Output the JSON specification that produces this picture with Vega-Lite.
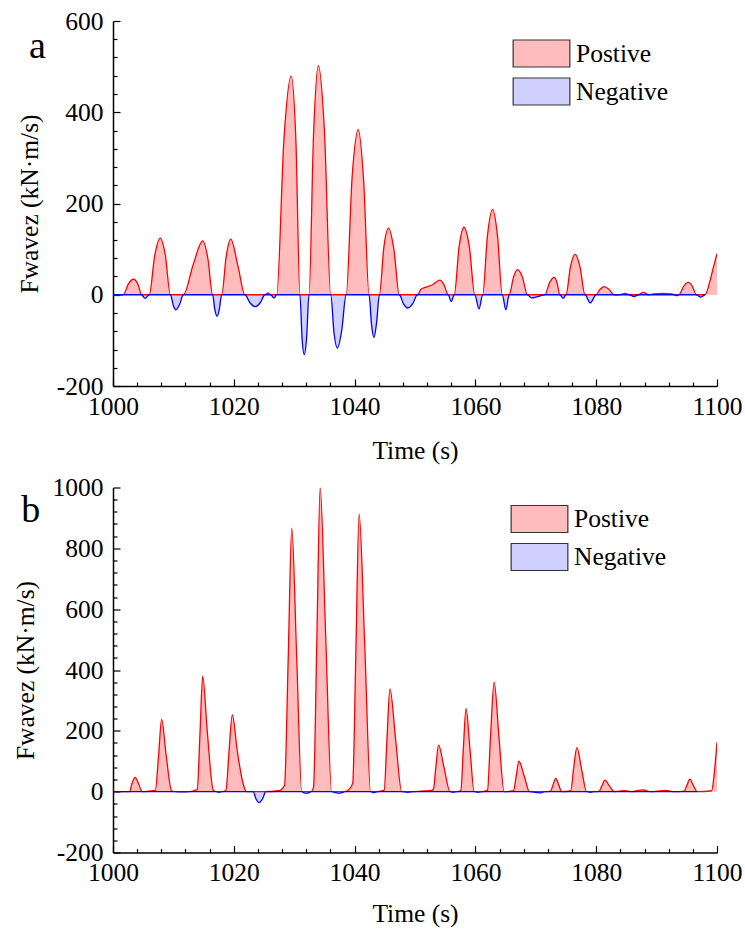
{
"$schema": "https://vega.github.io/schema/vega-lite/v6.json",
"padding": {"left": 13, "top": 9, "right": 5, "bottom": 2},
"background": "white",
"config": {
  "view": {"stroke": null},
  "font": "Liberation Serif",
  "axis": {"labelFont": "Liberation Serif", "titleFont": "Liberation Serif", "labelFontSize": 25.5, "titleFontSize": 25.5, "titleFontWeight": "normal", "labelColor": "black", "titleColor": "black", "domainColor": "black", "domainWidth": 1.5, "tickColor": "black", "tickWidth": 1.2, "grid": false, "labelPadding": 15, "labelOverlap": false, "labelFlush": false},
  "legend": {"labelFont": "Liberation Serif", "labelFontSize": 25.5, "labelColor": "black", "labelLimit": 300}
},
"spacing": 11.5,
"resolve": {"scale": {"fill": "independent"}, "legend": {"fill": "independent"}},
"vconcat": [
{
  "width": 604, "height": 365,
  "layer": [
   {
    "data": {"values": [
{"t":1000,"v":0},{"t":1001.7,"v":0},{"t":1002.55,"v":24},{"t":1003.4,"v":34},{"t":1004.1,"v":24},{"t":1004.75,"v":0},{"t":1005.3,"v":-8},{"t":1006.0,"v":0},{"t":1006.9,"v":85},{"t":1007.8,"v":124},{"t":1008.65,"v":88},{"t":1009.5,"v":0},{"t":1010.0,"v":-24},{"t":1010.4,"v":-33},{"t":1011.0,"v":-22},{"t":1011.65,"v":0},{"t":1013.3,"v":67},{"t":1014.85,"v":118},{"t":1015.7,"v":80},{"t":1016.5,"v":0},{"t":1016.85,"v":-32},{"t":1017.25,"v":-47},{"t":1017.6,"v":-32},{"t":1018.0,"v":0},{"t":1018.75,"v":85},{"t":1019.5,"v":122},{"t":1020.7,"v":62},{"t":1021.85,"v":0},{"t":1022.7,"v":-18},{"t":1023.6,"v":-26},{"t":1024.4,"v":-17},{"t":1025.15,"v":0},{"t":1025.7,"v":4},{"t":1026.1,"v":0},{"t":1026.65,"v":-7},{"t":1027.1,"v":0},{"t":1028.3,"v":340},{"t":1029.5,"v":479},{"t":1030.3,"v":330},{"t":1030.95,"v":0},{"t":1031.3,"v":-95},{"t":1031.67,"v":-131},{"t":1032.05,"v":-95},{"t":1032.45,"v":0},{"t":1033.2,"v":350},{"t":1034.0,"v":502},{"t":1035.0,"v":360},{"t":1036.05,"v":0},{"t":1036.6,"v":-85},{"t":1037.15,"v":-117},{"t":1037.85,"v":-80},{"t":1038.6,"v":0},{"t":1039.6,"v":260},{"t":1040.6,"v":362},{"t":1041.5,"v":250},{"t":1042.4,"v":0},{"t":1042.8,"v":-65},{"t":1043.2,"v":-94},{"t":1043.65,"v":-60},{"t":1044.1,"v":0},{"t":1044.85,"v":105},{"t":1045.6,"v":146},{"t":1046.5,"v":100},{"t":1047.4,"v":0},{"t":1048.1,"v":-20},{"t":1048.8,"v":-29},{"t":1049.6,"v":-20},{"t":1050.4,"v":0},{"t":1051.0,"v":12},{"t":1051.65,"v":16},{"t":1052.9,"v":22},{"t":1054.1,"v":32},{"t":1054.8,"v":22},{"t":1055.5,"v":0},{"t":1056.0,"v":-15},{"t":1056.5,"v":0},{"t":1057.3,"v":105},{"t":1058.1,"v":148},{"t":1059.0,"v":105},{"t":1059.9,"v":0},{"t":1060.6,"v":-31},{"t":1061.2,"v":0},{"t":1062.0,"v":130},{"t":1062.85,"v":187},{"t":1063.65,"v":130},{"t":1064.45,"v":0},{"t":1065.05,"v":-33},{"t":1065.6,"v":0},{"t":1066.3,"v":38},{"t":1066.95,"v":55},{"t":1067.8,"v":38},{"t":1068.6,"v":0},{"t":1069.3,"v":-7},{"t":1070.3,"v":-4},{"t":1071.5,"v":0},{"t":1072.3,"v":27},{"t":1073.05,"v":38},{"t":1073.5,"v":27},{"t":1074.0,"v":0},{"t":1074.55,"v":-8},{"t":1075.0,"v":0},{"t":1075.75,"v":62},{"t":1076.5,"v":89},{"t":1077.3,"v":62},{"t":1078.15,"v":0},{"t":1079.0,"v":-18},{"t":1080.0,"v":0},{"t":1080.65,"v":12},{"t":1081.3,"v":18},{"t":1082.1,"v":12},{"t":1082.95,"v":0},{"t":1083.3,"v":-1},{"t":1083.75,"v":0},{"t":1084.8,"v":3},{"t":1085.5,"v":0},{"t":1086.25,"v":-4},{"t":1087.0,"v":0},{"t":1087.8,"v":5},{"t":1088.7,"v":0},{"t":1089.5,"v":2},{"t":1091.0,"v":3},{"t":1092.5,"v":2},{"t":1093.0,"v":0},{"t":1093.3,"v":-2},{"t":1093.7,"v":0},{"t":1094.5,"v":19},{"t":1095.25,"v":27},{"t":1095.9,"v":19},{"t":1096.6,"v":0},{"t":1097.3,"v":-5},{"t":1098.0,"v":0},{"t":1098.85,"v":31},{"t":1099.4,"v":60},{"t":1100.0,"v":90}
    ]},
    "encoding": {
      "x": {"field": "t", "type": "quantitative", "scale": {"domain": [1000, 1100], "nice": false, "zero": false},
            "axis": {"title": "Time (s)", "titlePadding": 19, "labelOverlap": false, "labelFlush": false, "labelPadding": 15,
                     "values": [1000,1004,1008,1012,1016,1020,1024,1028,1032,1036,1040,1044,1048,1052,1056,1060,1064,1068,1072,1076,1080,1084,1088,1092,1096,1100],
                     "labelExpr": "datum.value % 20 === 0 ? '' + datum.value : ''",
                     "labelFontSize": {"condition": {"test": "datum.value % 20 === 0", "value": 25.5}, "value": 0},
                     "tickSize": {"condition": {"test": "datum.value % 20 === 0", "value": -7}, "value": -4}}},
      "y": {"field": "v", "type": "quantitative", "scale": {"domain": [-200, 600], "nice": false},
            "axis": {"title": "Fwavez (kN·m/s)", "titlePadding": 14, "labelOverlap": false, "labelFlush": false, "labelPadding": 17,
                     "values": [-200,-160,-120,-80,-40,0,40,80,120,160,200,240,280,320,360,400,440,480,520,560,600],
                     "labelExpr": "datum.value % 200 === 0 ? '' + datum.value : ''",
                     "labelFontSize": {"condition": {"test": "datum.value % 200 === 0", "value": 25.5}, "value": 0},
                     "tickSize": {"condition": {"test": "datum.value % 200 === 0", "value": -7}, "value": -4}}}
    },
    "layer": [
      {"transform": [{"filter": "datum.v >= 0"}],
       "mark": {"type": "area", "interpolate": "monotone", "clip": true},
       "encoding": {
         "y2": {"datum": 0},
         "fill": {"datum": "Postive", "type": "nominal",
                  "scale": {"domain": ["Postive", "Negative"], "range": ["#ffbcbc", "#d0d0ff"]},
                  "legend": {"orient": "none", "legendX": 399, "legendY": 18, "title": null, "padding": 0,
                             "labelFont": "Liberation Serif", "labelFontSize": 25.5, "labelColor": "black",
                             "symbolType": "M-2.1,-1H2.1V1H-2.1Z", "symbolSize": 729, "symbolOffset": 15, "labelOffset": 20, "rowPadding": 5,
                             "symbolStrokeColor": "#333333", "symbolStrokeWidth": 1.2,
                             "encode": {"symbols": {"update": {"stroke": {"value": "#333333"}, "strokeWidth": {"value": 1.2}, "opacity": {"value": 1}}}}}}
       }},
      {"transform": [{"filter": "datum.v <= 0"}],
       "mark": {"type": "area", "interpolate": "monotone", "clip": true},
       "encoding": {"y2": {"datum": 0}, "fill": {"datum": "Negative", "type": "nominal"}}},
      {"transform": [{"filter": "datum.v >= 0"}],
       "mark": {"type": "line", "interpolate": "monotone", "color": "#ff0000", "strokeWidth": 1.3, "clip": true}},
      {"transform": [{"filter": "datum.v <= 0"}],
       "mark": {"type": "line", "interpolate": "monotone", "color": "#0000ff", "strokeWidth": 1.3, "clip": true}}
    ]
   },
   {"data": {"values": [{}]},
    "mark": {"type": "text", "text": "a", "font": "Liberation Serif", "fontSize": 38, "align": "center", "baseline": "alphabetic", "color": "black", "clip": false},
    "encoding": {
      "x": {"datum": 987.5, "type": "quantitative",
            "axis": {"title": "Time (s)", "titlePadding": 19, "labelOverlap": false, "labelFlush": false, "labelPadding": 15,
                     "values": [1000,1004,1008,1012,1016,1020,1024,1028,1032,1036,1040,1044,1048,1052,1056,1060,1064,1068,1072,1076,1080,1084,1088,1092,1096,1100],
                     "labelExpr": "datum.value % 20 === 0 ? '' + datum.value : ''",
                     "labelFontSize": {"condition": {"test": "datum.value % 20 === 0", "value": 25.5}, "value": 0},
                     "tickSize": {"condition": {"test": "datum.value % 20 === 0", "value": -7}, "value": -4}}},
      "y": {"datum": 518, "type": "quantitative",
            "axis": {"title": "Fwavez (kN·m/s)", "titlePadding": 14, "labelOverlap": false, "labelFlush": false, "labelPadding": 17,
                     "values": [-200,-160,-120,-80,-40,0,40,80,120,160,200,240,280,320,360,400,440,480,520,560,600],
                     "labelExpr": "datum.value % 200 === 0 ? '' + datum.value : ''",
                     "labelFontSize": {"condition": {"test": "datum.value % 200 === 0", "value": 25.5}, "value": 0},
                     "tickSize": {"condition": {"test": "datum.value % 200 === 0", "value": -7}, "value": -4}}}
    }}
  ]
},
{
  "width": 604, "height": 365,
  "layer": [
   {
    "data": {"values": [
{"t":1000,"v":0},{"t":1002.7,"v":0},{"t":1003.2,"v":30},{"t":1003.65,"v":47},{"t":1004.2,"v":28},{"t":1004.85,"v":0},{"t":1006.0,"v":2},{"t":1007.0,"v":4},{"t":1007.55,"v":120},{"t":1008.05,"v":238},{"t":1008.8,"v":120},{"t":1009.7,"v":3},{"t":1010.3,"v":0},{"t":1011.5,"v":-1},{"t":1012.5,"v":0},{"t":1013.3,"v":3},{"t":1013.95,"v":8},{"t":1014.4,"v":190},{"t":1014.85,"v":380},{"t":1015.6,"v":200},{"t":1016.6,"v":5},{"t":1017.1,"v":0},{"t":1017.5,"v":-2},{"t":1018.1,"v":0},{"t":1018.7,"v":5},{"t":1019.2,"v":130},{"t":1019.75,"v":252},{"t":1020.6,"v":130},{"t":1021.5,"v":30},{"t":1022.1,"v":0},{"t":1023.2,"v":0},{"t":1023.7,"v":-25},{"t":1024.2,"v":-36},{"t":1024.8,"v":-22},{"t":1025.3,"v":0},{"t":1027.4,"v":3},{"t":1028.4,"v":20},{"t":1029.0,"v":430},{"t":1029.6,"v":866},{"t":1030.4,"v":450},{"t":1031.25,"v":0},{"t":1031.6,"v":-4},{"t":1032.2,"v":-5},{"t":1032.8,"v":0},{"t":1033.2,"v":15},{"t":1033.75,"v":500},{"t":1034.3,"v":1000},{"t":1035.2,"v":520},{"t":1036.2,"v":0},{"t":1036.8,"v":-3},{"t":1037.6,"v":-5},{"t":1038.4,"v":0},{"t":1039.2,"v":10},{"t":1039.7,"v":30},{"t":1040.2,"v":450},{"t":1040.75,"v":912},{"t":1041.7,"v":470},{"t":1042.65,"v":0},{"t":1043.2,"v":-3},{"t":1043.8,"v":0},{"t":1044.9,"v":5},{"t":1045.35,"v":170},{"t":1045.85,"v":338},{"t":1046.8,"v":170},{"t":1047.8,"v":0},{"t":1048.8,"v":-2},{"t":1049.8,"v":0},{"t":1051.0,"v":2},{"t":1052.5,"v":3},{"t":1053.05,"v":8},{"t":1053.45,"v":80},{"t":1053.9,"v":153},{"t":1054.8,"v":80},{"t":1055.8,"v":0},{"t":1056.3,"v":-2},{"t":1057.0,"v":0},{"t":1057.6,"v":5},{"t":1058.0,"v":140},{"t":1058.45,"v":274},{"t":1059.1,"v":140},{"t":1059.8,"v":0},{"t":1060.4,"v":-2},{"t":1061.2,"v":0},{"t":1062.0,"v":5},{"t":1062.5,"v":180},{"t":1063.1,"v":360},{"t":1063.9,"v":180},{"t":1064.75,"v":0},{"t":1066.3,"v":3},{"t":1066.75,"v":50},{"t":1067.2,"v":100},{"t":1068.1,"v":50},{"t":1068.95,"v":0},{"t":1070.2,"v":-3},{"t":1070.8,"v":-4},{"t":1071.5,"v":0},{"t":1072.45,"v":2},{"t":1072.85,"v":22},{"t":1073.3,"v":44},{"t":1073.8,"v":22},{"t":1074.3,"v":0},{"t":1075.8,"v":3},{"t":1076.25,"v":75},{"t":1076.8,"v":145},{"t":1077.6,"v":72},{"t":1078.4,"v":0},{"t":1079.0,"v":-2},{"t":1079.7,"v":0},{"t":1080.5,"v":2},{"t":1080.95,"v":20},{"t":1081.45,"v":38},{"t":1082.2,"v":18},{"t":1083.1,"v":0},{"t":1084.7,"v":3},{"t":1085.8,"v":0},{"t":1087.8,"v":6},{"t":1089.0,"v":0},{"t":1091.4,"v":4},{"t":1093.0,"v":0},{"t":1094.55,"v":2},{"t":1095.0,"v":20},{"t":1095.5,"v":41},{"t":1096.1,"v":20},{"t":1096.75,"v":0},{"t":1099.1,"v":3},{"t":1099.6,"v":70},{"t":1100.0,"v":162}
    ]},
    "encoding": {
      "x": {"field": "t", "type": "quantitative", "scale": {"domain": [1000, 1100], "nice": false, "zero": false},
            "axis": {"title": "Time (s)", "titlePadding": 15.5, "labelOverlap": false, "labelFlush": false, "labelPadding": 15,
                     "values": [1000,1004,1008,1012,1016,1020,1024,1028,1032,1036,1040,1044,1048,1052,1056,1060,1064,1068,1072,1076,1080,1084,1088,1092,1096,1100],
                     "labelExpr": "datum.value % 20 === 0 ? '' + datum.value : ''",
                     "labelFontSize": {"condition": {"test": "datum.value % 20 === 0", "value": 25.5}, "value": 0},
                     "tickSize": {"condition": {"test": "datum.value % 20 === 0", "value": -7}, "value": -4}}},
      "y": {"field": "v", "type": "quantitative", "scale": {"domain": [-200, 1000], "nice": false},
            "axis": {"title": "Fwavez (kN·m/s)", "titlePadding": 14, "labelOverlap": false, "labelFlush": false, "labelPadding": 17,
                     "values": [-200,-160,-120,-80,-40,0,40,80,120,160,200,240,280,320,360,400,440,480,520,560,600,640,680,720,760,800,840,880,920,960,1000],
                     "labelExpr": "datum.value % 200 === 0 ? '' + datum.value : ''",
                     "labelFontSize": {"condition": {"test": "datum.value % 200 === 0", "value": 25.5}, "value": 0},
                     "tickSize": {"condition": {"test": "datum.value % 200 === 0", "value": -7}, "value": -4}}}
    },
    "layer": [
      {"transform": [{"filter": "datum.v >= 0"}],
       "mark": {"type": "area", "interpolate": "monotone", "clip": true},
       "encoding": {
         "y2": {"datum": 0},
         "fill": {"datum": "Postive", "type": "nominal",
                  "scale": {"domain": ["Postive", "Negative"], "range": ["#ffbcbc", "#d0d0ff"]},
                  "legend": {"orient": "none", "legendX": 397, "legendY": 17, "title": null, "padding": 0,
                             "labelFont": "Liberation Serif", "labelFontSize": 25.5, "labelColor": "black",
                             "symbolType": "M-2.1,-1H2.1V1H-2.1Z", "symbolSize": 729, "symbolOffset": 15, "labelOffset": 20, "rowPadding": 5,
                             "symbolStrokeColor": "#333333", "symbolStrokeWidth": 1.2,
                             "encode": {"symbols": {"update": {"stroke": {"value": "#333333"}, "strokeWidth": {"value": 1.2}, "opacity": {"value": 1}}}}}}
       }},
      {"transform": [{"filter": "datum.v <= 0"}],
       "mark": {"type": "area", "interpolate": "monotone", "clip": true},
       "encoding": {"y2": {"datum": 0}, "fill": {"datum": "Negative", "type": "nominal"}}},
      {"transform": [{"filter": "datum.v >= 0"}],
       "mark": {"type": "line", "interpolate": "monotone", "color": "#ff0000", "strokeWidth": 1.3, "clip": true}},
      {"transform": [{"filter": "datum.v <= 0"}],
       "mark": {"type": "line", "interpolate": "monotone", "color": "#0000ff", "strokeWidth": 1.3, "clip": true}}
    ]
   },
   {"data": {"values": [{}]},
    "mark": {"type": "text", "text": "b", "font": "Liberation Serif", "fontSize": 38, "align": "center", "baseline": "alphabetic", "color": "black", "clip": false},
    "encoding": {
      "x": {"datum": 986.4, "type": "quantitative",
            "axis": {"title": "Time (s)", "titlePadding": 15.5, "labelOverlap": false, "labelFlush": false, "labelPadding": 15,
                     "values": [1000,1004,1008,1012,1016,1020,1024,1028,1032,1036,1040,1044,1048,1052,1056,1060,1064,1068,1072,1076,1080,1084,1088,1092,1096,1100],
                     "labelExpr": "datum.value % 20 === 0 ? '' + datum.value : ''",
                     "labelFontSize": {"condition": {"test": "datum.value % 20 === 0", "value": 25.5}, "value": 0},
                     "tickSize": {"condition": {"test": "datum.value % 20 === 0", "value": -7}, "value": -4}}},
      "y": {"datum": 886, "type": "quantitative",
            "axis": {"title": "Fwavez (kN·m/s)", "titlePadding": 14, "labelOverlap": false, "labelFlush": false, "labelPadding": 17,
                     "values": [-200,-160,-120,-80,-40,0,40,80,120,160,200,240,280,320,360,400,440,480,520,560,600,640,680,720,760,800,840,880,920,960,1000],
                     "labelExpr": "datum.value % 200 === 0 ? '' + datum.value : ''",
                     "labelFontSize": {"condition": {"test": "datum.value % 200 === 0", "value": 25.5}, "value": 0},
                     "tickSize": {"condition": {"test": "datum.value % 200 === 0", "value": -7}, "value": -4}}}
    }}
  ]
}
]
}
